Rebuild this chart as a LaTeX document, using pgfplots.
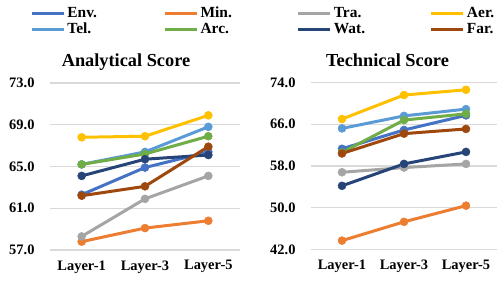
\documentclass[border=0pt]{standalone}
\usepackage{fontspec}
\setmainfont{Liberation Serif}
\usepackage{pgfplots}
\usepackage{pgfplotstable}
\pgfplotsset{compat=1.18}

\definecolor{cEnv}{HTML}{4472C4}
\definecolor{cMin}{HTML}{ED7D31}
\definecolor{cTra}{HTML}{A5A5A5}
\definecolor{cAer}{HTML}{FFC000}
\definecolor{cTel}{HTML}{5B9BD5}
\definecolor{cArc}{HTML}{70AD47}
\definecolor{cWat}{HTML}{264478}
\definecolor{cFar}{HTML}{9E480E}
\definecolor{gridgray}{HTML}{D9D9D9}

\pgfplotstableread{
x Env Min Tra Aer Tel Arc Wat Far
0 62.3 57.8 58.3 67.8 65.2 65.2 64.1 62.2
1 64.9 59.1 61.9 67.9 66.4 66.2 65.7 63.1
2 66.4 59.8 64.1 69.9 68.8 67.9 66.1 66.9
}\analytical

\pgfplotstableread{
x Env Min Tra Aer Tel Arc Wat Far
0 61.3 43.7 56.8 67.0 65.2 60.6 54.2 60.4
1 64.9 47.3 57.7 71.6 67.6 66.8 58.4 64.2
2 67.7 50.4 58.4 72.6 68.9 68.0 60.7 65.1
}\technical

\pgfplotsset{
  myax/.style={
    scale only axis,
    height=167bp,
    anchor=south west,
    xmin=-0.5, xmax=2.5,
    xtick={0,1,2},
    xticklabels={Layer-1,Layer-3,Layer-5},
    axis line style={draw=none},
    major tick length=0pt,
    ymajorgrids,
    grid style={draw=gridgray, line width=1.2bp},
    tick label style={font=\fontsize{14.5}{16}\selectfont\bfseries},
    /pgf/number format/fixed,
    /pgf/number format/fixed zerofill,
    /pgf/number format/precision=1,
    /pgf/number format/assume math mode=true,
    yticklabel style={xshift=-12bp},
    xticklabel style={yshift=-7bp},
    clip=false,
    every axis plot/.append style={line width=3bp, mark=*, mark size=4bp, mark options={line width=0.5bp}},
    legend image code/.code={\draw[line width=3.2bp] (0bp,0bp) -- (32bp,0bp);},
  },
}

\begin{document}
\begin{tikzpicture}
\useasboundingbox (0,0) rectangle (498bp,282bp);
\begin{axis}[myax,
  at={(50bp,32bp)}, width=190bp,
  ymin=57, ymax=73, ytick={57,61,65,69,73},
  legend columns=4,
  legend style={at={(axis description cs:-0.121,1.472)}, anchor=north west, draw=none, fill=none,
    column sep=0pt, row sep=2bp,
    font=\fontsize{15.5}{17}\selectfont\bfseries,
    nodes={inner xsep=2bp, inner ysep=0pt, text width=94bp, align=left, text height=11bp, text depth=3bp}},
  legend cell align=left,
]
\addplot[cEnv] table[x=x,y=Env] {\analytical};
\addplot[cMin] table[x=x,y=Min] {\analytical};
\addplot[cTra] table[x=x,y=Tra] {\analytical};
\addplot[cAer] table[x=x,y=Aer] {\analytical};
\addplot[cTel] table[x=x,y=Tel] {\analytical};
\addplot[cArc] table[x=x,y=Arc] {\analytical};
\addplot[cWat] table[x=x,y=Wat] {\analytical};
\addplot[cFar] table[x=x,y=Far] {\analytical};
\legend{Env.,Min.,Tra.,Aer.,Tel.,Arc.,Wat.,Far.}
\end{axis}
\begin{axis}[myax,
  at={(311bp,32.5bp)}, width=186bp,
  ymin=42, ymax=74, ytick={42,50,58,66,74},
]
\addplot[cEnv] table[x=x,y=Env] {\technical};
\addplot[cMin] table[x=x,y=Min] {\technical};
\addplot[cTra] table[x=x,y=Tra] {\technical};
\addplot[cAer] table[x=x,y=Aer] {\technical};
\addplot[cTel] table[x=x,y=Tel] {\technical};
\addplot[cArc] table[x=x,y=Arc] {\technical};
\addplot[cWat] table[x=x,y=Wat] {\technical};
\addplot[cFar] table[x=x,y=Far] {\technical};
\end{axis}
\node[font=\fontsize{18.4}{20}\selectfont\bfseries, anchor=base] at (126bp,215bp) {Analytical Score};
\node[font=\fontsize{18.4}{20}\selectfont\bfseries, anchor=base] at (387.5bp,215bp) {Technical Score};
\end{tikzpicture}
\end{document}
